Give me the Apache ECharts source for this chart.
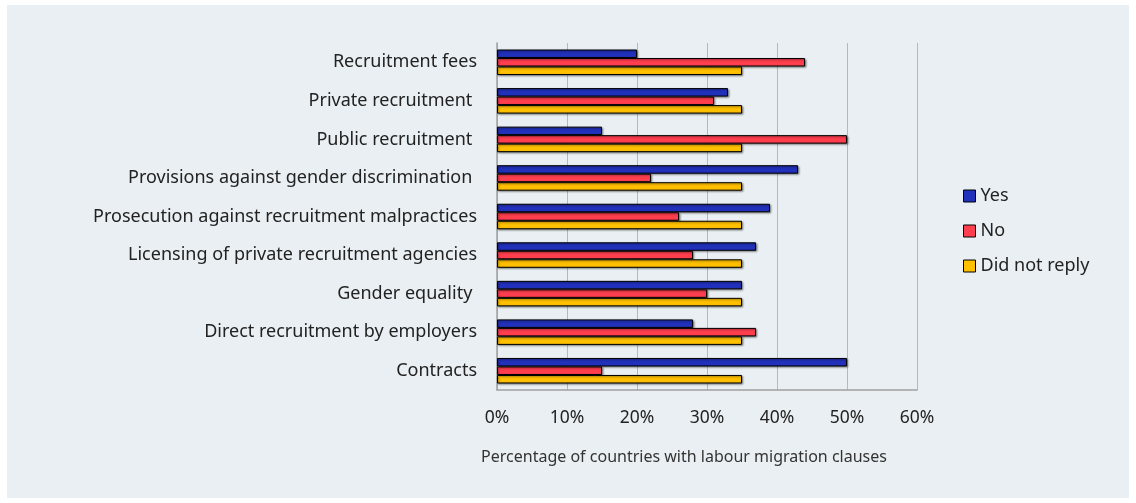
<!DOCTYPE html>
<html>
<head>
<meta charset="utf-8">
<script src="https://cdn.jsdelivr.net/npm/echarts@6/dist/echarts.min.js"></script>
<style>
  html, body { margin: 0; padding: 0; background: #ffffff; }
  #chart { width: 1136px; height: 503px; }
</style>
</head>
<body>
<div id="chart"></div>
<script>
// Topics covered by labour migration clauses, top to bottom
const categories = [
  'Recruitment fees',
  'Private recruitment ',
  'Public recruitment ',
  'Provisions against gender discrimination ',
  'Prosecution against recruitment malpractices',
  'Licensing of private recruitment agencies',
  'Gender equality ',
  'Direct recruitment by employers',
  'Contracts'
];

// Share of countries (%) per answer
const yesValues = [20, 33, 15, 43, 39, 37, 35, 28, 50];
const noValues = [44, 31, 50, 22, 26, 28, 30, 37, 15];
const noReplyValues = [35, 35, 35, 35, 35, 35, 35, 35, 35];

const seriesNames = ['Yes', 'No', 'Did not reply'];
const seriesColors = ['#2131bb', '#ff3e4e', '#ffc000'];

const axisTitle = 'Percentage of countries with labour migration clauses';

const FONT = '"Noto Sans", "Open Sans", sans-serif';
const chart = echarts.init(document.getElementById('chart'));

function barSeries(name, data, color) {
  return {
    name: name,
    type: 'bar',
    data: data,
    barWidth: 8.5,
    barGap: '0%',
    itemStyle: {
      color: color,
      borderColor: '#000000',
      borderWidth: 1,
      shadowColor: 'rgba(0,0,0,0.45)',
      shadowBlur: 2,
      shadowOffsetX: 1,
      shadowOffsetY: 1
    },
    emphasis: { disabled: true }
  };
}

chart.setOption({
  backgroundColor: '#ffffff',
  animation: false,
  textStyle: { fontFamily: FONT },
  graphic: [{
    type: 'rect',
    z: -10,
    silent: true,
    shape: { x: 7, y: 5, width: 1122, height: 493 },
    style: { fill: '#e9eff2' }
  }],
  legend: {
    orient: 'vertical',
    left: 958,
    top: 182,
    itemWidth: 12,
    itemHeight: 12,
    itemGap: 17,
    icon: 'rect',
    data: seriesNames,
    itemStyle: { borderColor: '#000000', borderWidth: 1 },
    textStyle: { fontFamily: FONT, fontSize: 18, color: '#222222', padding: [0, 0, 0, 0] }
  },
  grid: { left: 497, right: 219, top: 43, bottom: 113, containLabel: false },
  xAxis: {
    type: 'value',
    min: 0,
    max: 60,
    interval: 10,
    name: axisTitle,
    nameLocation: 'middle',
    nameGap: 59,
    nameTextStyle: { fontFamily: FONT, fontSize: 16, color: '#333333', padding: [0, 46, 0, 0] },
    axisLine: { show: true, lineStyle: { color: '#a0a0a0', width: 1.5 } },
    axisTick: { show: false },
    axisLabel: {
      formatter: '{value}%',
      margin: 19,
      fontFamily: FONT,
      fontSize: 17.5,
      color: '#222222'
    },
    splitLine: { show: true, lineStyle: { color: '#b8b8b8', width: 1 } }
  },
  yAxis: {
    type: 'category',
    data: categories,
    inverse: true,
    axisLine: { show: true, lineStyle: { color: '#a0a0a0', width: 1.5 } },
    axisTick: { show: false },
    axisLabel: {
      margin: 20,
      fontFamily: FONT,
      fontSize: 18,
      color: '#222222'
    },
    splitLine: { show: false }
  },
  series: [
    barSeries(seriesNames[0], yesValues, seriesColors[0]),
    barSeries(seriesNames[1], noValues, seriesColors[1]),
    barSeries(seriesNames[2], noReplyValues, seriesColors[2])
  ]
});
</script>
</body>
</html>
